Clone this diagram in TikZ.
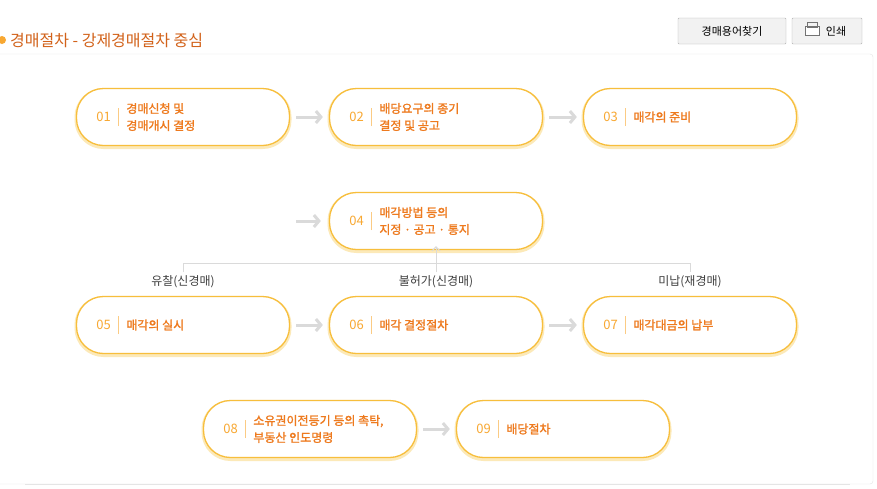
\documentclass[tikz,border=0pt]{standalone}
\usepackage{fontspec}
\setmainfont{Noto Sans CJK KR}
\newfontfamily\krb{Noto Sans CJK KR}[FakeBold=1.5]
\usetikzlibrary{arrows.meta}
\definecolor{bord}{HTML}{F7BE3C}
\definecolor{glow}{HTML}{FCE9B8}
\definecolor{numc}{HTML}{F8A832}
\definecolor{txtc}{HTML}{EE7A1E}
\definecolor{titc}{HTML}{D2621A}
\definecolor{arr}{HTML}{DADADA}
\tikzset{
 stepbox/.style={draw=bord,line width=1.3pt,rounded corners=27pt,minimum width=213pt,minimum height=57pt,fill=white,
   preaction={draw=glow,line width=4pt,transform canvas={yshift=-1.5pt}}},
 flow/.style={draw=arr,line width=3pt,-{Straight Barb[length=5pt,width=12pt]}},
 thin/.style={draw=arr,line width=1pt},
 lbl/.style={font=\fontsize{12}{14}\selectfont,text=black!75},
}
\newcommand{\stp}[4]{%
 \node[stepbox] (#1) at #2 {};
 \node[anchor=west,text=numc,font=\fontsize{13}{14}\selectfont] at ([xshift=17pt]#1.west) {#3};
 \draw[numc!60,line width=0.6pt] ([xshift=42pt,yshift=-9pt]#1.west) -- ([xshift=42pt,yshift=9pt]#1.west);
 \node[anchor=west,text=txtc,align=left,font=\krb\fontsize{12}{17}\selectfont] at ([xshift=47pt]#1.west) {#4};
}
\begin{document}
\begin{tikzpicture}[x=1pt,y=-1pt]
\useasboundingbox (0,0) rectangle (877,488);
\fill[white] (0,0) rectangle (877,488);
% header
\fill[numc] (2,40) circle (4pt);
\node[anchor=west,text=titc,font=\fontsize{16}{18}\selectfont,inner sep=0pt] (title) at (10,41) {경매절차 - 강제경매절차 중심};
\node[draw=black!30,fill=black!5,rounded corners=1pt,minimum width=108pt,minimum height=26pt,font=\fontsize{11}{12}\selectfont] (b1) at (732,31) {경매용어찾기};
\node[draw=black!30,fill=black!5,rounded corners=1pt,minimum width=70pt,minimum height=26pt,font=\fontsize{11}{12}\selectfont] (b2) at (827,31) {\hspace{18pt}인쇄};
\draw[black!55,fill=white] (805,26) rectangle (819,35); \draw[black!55] (807,22) rectangle (817,27);
% panel
\draw[black!10,rounded corners=3pt] (0,54) -- (873,54) -- (873,484) -- (0,484);
% steps
\stp{s1}{(183,117)}{01}{경매신청 및\\경매개시 결정}
\stp{s2}{(436,117)}{02}{배당요구의 종기\\결정 및 공고}
\stp{s3}{(690,117)}{03}{매각의 준비}
\stp{s4}{(436,221)}{04}{매각방법 등의\\지정 · 공고 · 통지}
\stp{s5}{(183,325)}{05}{매각의 실시}
\stp{s6}{(436,325)}{06}{매각 결정절차}
\stp{s7}{(690,325)}{07}{매각대금의 납부}
\stp{s8}{(310,429)}{08}{소유권이전등기 등의 촉탁,\\부동산 인도명령}
\stp{s9}{(563,429)}{09}{배당절차}
\coordinate (a4) at (296,221);
\draw[flow] ([xshift=6pt]s1.east) -- ([xshift=-6pt]s2.west);
\draw[flow] ([xshift=6pt]s2.east) -- ([xshift=-6pt]s3.west);
\draw[flow] (a4) -- ([xshift=-8pt]s4.west);
\draw[flow] ([xshift=6pt]s5.east) -- ([xshift=-6pt]s6.west);
\draw[flow] ([xshift=6pt]s6.east) -- ([xshift=-6pt]s7.west);
\draw[flow] ([xshift=6pt]s8.east) -- ([xshift=-6pt]s9.west);
% feedback
\node[lbl] (l5) at (183,282) {유찰(신경매)};
\node[lbl] (l6) at (436,282) {불허가(신경매)};
\node[lbl] (l7) at (690,282) {미납(재경매)};
\draw[thin] (l5.north) -- (183,263) -- (690,263) -- (l7.north);
\draw[thin,-{Straight Barb[length=4pt,width=8pt]}] (l6.north) -- ([yshift=4pt]s4.south);
\draw[black!10] (25,484) -- (850,484);
\end{tikzpicture}
\end{document}
